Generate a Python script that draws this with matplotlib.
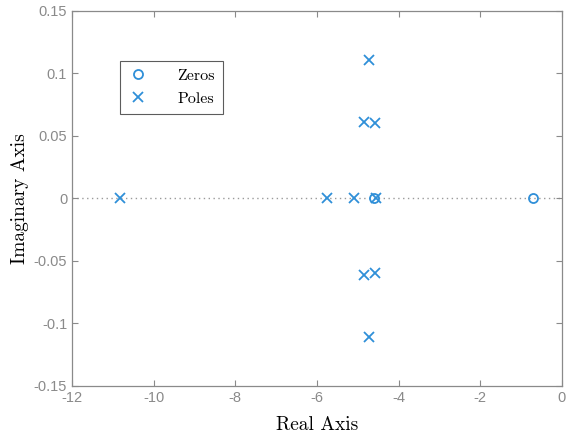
import numpy as np
import matplotlib.pyplot as plt

# Nullstellen und Polstellen
zeros_re = [-4.60, -0.70]
zeros_im = [0.0, 0.0]
poles_re = [-10.82, -5.75, -5.10, -4.55, -4.84, -4.84, -4.58, -4.58, -4.72, -4.72]
poles_im = [0.0, 0.0, 0.0, 0.0, 0.061, -0.061, 0.060, -0.060, 0.111, -0.111]

xticks = [-12, -10, -8, -6, -4, -2, 0]
yticks = [-0.15, -0.1, -0.05, 0, 0.05, 0.1, 0.15]
yticklabels = ['-0.15', '-0.1', '-0.05', '0', '0.05', '0.1', '0.15']

blue = '#2f8fd8'
grey = '#8a8a8a'

fig = plt.figure(figsize=(5.67, 4.38), dpi=100)
ax = fig.add_axes([0.127, 0.119, 0.864, 0.856])

ax.axhline(0, color='#9a9a9a', linestyle=(0, (1, 2.5)), linewidth=1.0, zorder=1)

ax.plot(zeros_re, zeros_im, linestyle='none', marker='o', markersize=6.5,
        markerfacecolor='none', markeredgecolor=blue, markeredgewidth=1.3,
        label='Zeros', zorder=3)
ax.plot(poles_re, poles_im, linestyle='none', marker='x', markersize=6.5,
        color=blue, markeredgewidth=1.3, label='Poles', zorder=3)

ax.set_xlim(-12, 0)
ax.set_ylim(-0.15, 0.15)
ax.set_xticks(xticks)
ax.set_xticklabels([str(t) for t in xticks])
ax.set_yticks(yticks)
ax.set_yticklabels(yticklabels)

ax.tick_params(direction='in', top=True, right=True, length=4, width=0.8,
               colors=grey, labelsize=10.5)
for lbl in ax.get_xticklabels() + ax.get_yticklabels():
    lbl.set_family('Liberation Sans')
for s in ax.spines.values():
    s.set_color(grey)
    s.set_linewidth(0.9)

ax.set_xlabel('Real Axis', family='cmr10', fontsize=14, color='black', labelpad=8)
ax.set_ylabel('Imaginary Axis', family='cmr10', fontsize=14, color='black', labelpad=3)

leg = ax.legend(loc='upper left', bbox_to_anchor=(0.098, 0.867), borderaxespad=0,
                prop={'family': 'cmr10', 'size': 11.5}, frameon=True,
                fancybox=False, edgecolor='#333333', borderpad=0.5,
                handlelength=1.2, handletextpad=1.9, labelspacing=0.55)
leg.get_frame().set_linewidth(0.8)

fig.savefig('out.png', dpi=100)
